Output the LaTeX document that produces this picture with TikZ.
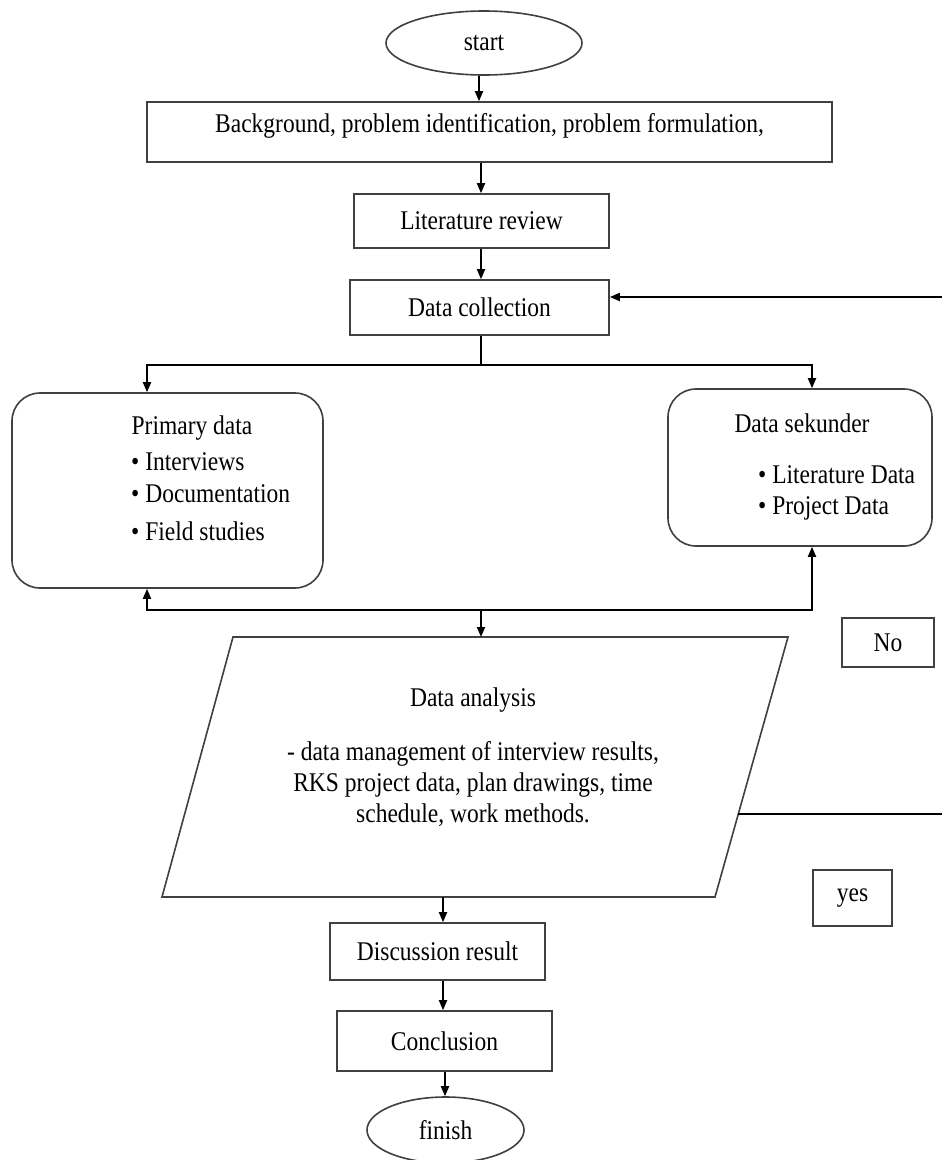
\documentclass[tikz,border=0pt]{standalone}
\usepackage{fontspec}
\setmainfont[FakeStretch=0.87]{Liberation Serif}
\usetikzlibrary{shapes.geometric,arrows.meta,calc}
\tikzset{
  boxline/.style={draw=black!75, line width=1.6pt},
  rbox/.style={boxline, rectangle, inner sep=0pt},
  rounded/.style={boxline, rectangle, rounded corners=28pt, inner sep=0pt},
  oval/.style={boxline, ellipse, inner sep=0pt},
  txt/.style={inner sep=0pt, font=\fontsize{27}{31}\selectfont},
  arr/.style={draw=black, line width=1.8pt, -{Triangle[length=10pt,width=8pt]}},
  wire/.style={draw=black, line width=1.8pt},
}
\begin{document}
\begin{tikzpicture}[x=1pt,y=-1pt]
\useasboundingbox[fill=white] (0,0) rectangle (942,1160);
\begin{scope}[every node/.append style={font=\fontsize{27}{31}\selectfont}]
% nodes
\node[oval, minimum width=196pt, minimum height=64pt] (start) at (484,43) {start};
\node[rbox, minimum width=685pt, minimum height=60pt] (bg) at (489.5,132) {};
\node[txt] (bgt) at (489.5,126) {Background, problem identification, problem formulation,};
\node[rbox, minimum width=255pt, minimum height=54pt] (lit) at (481.5,221) {Literature review};
\node[rbox, minimum width=259pt, minimum height=55pt] (dc) at (479.5,307.5) {Data collection};

\node[rounded, minimum width=311pt, minimum height=195pt] (prim) at (167.5,490.5) {};
\node[txt] (primt) at (192,428) {Primary data};
\node[txt, anchor=west] (p1) at (131,462) {\textbullet\ Interviews};
\node[txt, anchor=west] (p2) at (131,494) {\textbullet\ Documentation};
\node[txt, anchor=west] (p3) at (131,531) {\textbullet\ Field studies};

\node[rounded, minimum width=264pt, minimum height=157pt] (sek) at (800,467.5) {};
\node[txt] (sekt) at (802,423) {Data sekunder};
\node[txt, anchor=west] (s1) at (758,475) {\textbullet\ Literature Data};
\node[txt, anchor=west] (s2) at (758,508) {\textbullet\ Project Data};

% parallelogram
\draw[boxline] (233,637) coordinate (pa1) -- (788,637) coordinate (pa2)
  -- (715,897) coordinate (pa3) -- (162,897) coordinate (pa4) -- cycle;
\node[txt, align=center] (dat) at (473,700) {Data analysis};
\node[txt, align=center] (dad) at (473,784) {- data management of interview results,\\RKS project data, plan drawings, time\\schedule, work methods.};

\node[rbox, minimum width=92pt, minimum height=49pt] (no) at (888,642.5) {No};
\node[rbox, minimum width=79pt, minimum height=56pt] (yes) at (852.5,898) {yes};

\node[rbox, minimum width=215pt, minimum height=57pt] (disc) at (437.5,951.5) {Discussion result};
\node[rbox, minimum width=215pt, minimum height=60pt] (conc) at (444.5,1041) {Conclusion};
\node[oval, minimum width=157pt, minimum height=66pt] (fin) at (445.5,1130) {finish};

% coordinates
\coordinate (fbin) at (942,297);
\coordinate (split) at (481,365);
\coordinate (merge) at (481,610);
\coordinate (datop) at (481,637);
\coordinate (dabot) at (443,897);
\coordinate (daright) at (738,814);
\coordinate (fbout) at (942,814);

% connectors
\draw[arr] (start.south -| 479,0) -- (bg.north -| 479,0);
\draw[arr] (bg.south -| 481,0) -- (lit.north -| 481,0);
\draw[arr] (lit.south -| 481,0) -- (dc.north -| 481,0);
\draw[arr] (fbin) -- (dc.east |- fbin);
\draw[wire] (dc.south -| split) -- (split);
\draw[arr] (split) -| ([xshift=-20.5pt]prim.north);
\draw[arr] (split) -| ([xshift=12pt]sek.north);
\draw[arr] (merge) -| ([xshift=-20.5pt]prim.south);
\draw[arr] (merge) -| ([xshift=12pt]sek.south);
\draw[arr] (merge) -- (datop);
\draw[wire] (daright) -- (fbout);
\draw[arr] (dabot) -- (disc.north -| dabot);
\draw[arr] (disc.south -| 443,0) -- (conc.north -| 443,0);
\draw[arr] (conc.south -| 445,0) -- (fin.north -| 445,0);
\end{scope}
\end{tikzpicture}
\end{document}
